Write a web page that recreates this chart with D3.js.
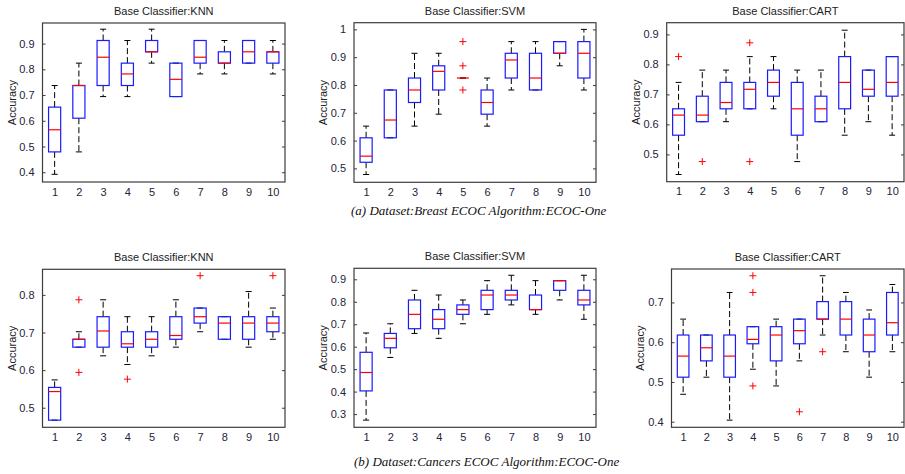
<!DOCTYPE html>
<html>
<head>
<meta charset="utf-8">
<script src="https://cdn.jsdelivr.net/npm/d3@7"></script>
<style>
  body { margin: 0; background: #fff; }
  svg { display: block; }
  .tick-label { font-family: "Liberation Sans", Arial, sans-serif; font-size: 11px; fill: #24243a; }
  .title { font-family: "Liberation Sans", Arial, sans-serif; font-size: 11px; fill: #222; }
  .caption { font-family: "Liberation Serif", "Times New Roman", serif; font-style: italic; font-size: 13px; fill: #111; }
</style>
</head>
<body>
<div id="chart"></div>
<script>
// groups on the x axis
var groups = [1, 2, 3, 4, 5, 6, 7, 8, 9, 10];

// each box: [lower whisker, q1, median, q3, upper whisker]
var breastKnn = [[0.392,0.479,0.565,0.653,0.737],[0.479,0.610,0.737,0.737,0.824],[0.694,0.737,0.847,0.912,0.956],[0.694,0.737,0.782,0.824,0.912],[0.824,0.868,0.868,0.912,0.956],
                 [0.694,0.694,0.761,0.824,0.824],[0.782,0.824,0.847,0.912,0.912],[0.782,0.824,0.824,0.868,0.912],[0.824,0.824,0.868,0.912,0.912],[0.782,0.824,0.868,0.868,0.912]];
var breastKnnOut = [[],[],[],[],[],[],[],[],[],[]];

var breastSvm = [[0.478,0.522,0.544,0.610,0.652],[0.610,0.610,0.674,0.782,0.782],[0.652,0.737,0.782,0.825,0.914],[0.695,0.782,0.849,0.869,0.914],[0.825,0.825,0.825,0.825,0.825],
                 [0.652,0.695,0.737,0.782,0.825],[0.782,0.825,0.890,0.914,0.956],[0.782,0.782,0.825,0.914,0.956],[0.869,0.914,0.914,0.956,0.956],[0.782,0.825,0.914,0.956,1.0]];
var breastSvmOut = [[],[],[],[],[0.956,0.869,0.782],[],[],[],[],[]];

var breastCart = [[0.433,0.564,0.631,0.652,0.740],[0.609,0.609,0.631,0.694,0.781],[0.609,0.652,0.673,0.740,0.781],[0.652,0.652,0.717,0.740,0.826],[0.652,0.694,0.740,0.781,0.826],
                  [0.476,0.564,0.652,0.740,0.781],[0.609,0.609,0.652,0.694,0.781],[0.564,0.652,0.740,0.826,0.914],[0.609,0.694,0.717,0.781,0.781],[0.564,0.694,0.740,0.826,0.826]];
var breastCartOut = [[0.826],[0.476],[],[0.872,0.476],[],[],[],[],[],[]];

var cancersKnn = [[0.467,0.467,0.543,0.554,0.574],[0.661,0.661,0.682,0.682,0.702],[0.638,0.661,0.704,0.742,0.787],[0.615,0.661,0.670,0.702,0.742],[0.638,0.661,0.682,0.702,0.742],
                  [0.661,0.682,0.692,0.742,0.787],[0.702,0.725,0.742,0.765,0.765],[0.682,0.682,0.725,0.742,0.742],[0.661,0.682,0.725,0.742,0.809],[0.682,0.702,0.725,0.742,0.765]];
var cancersKnnOut = [[],[0.787,0.594],[],[0.576],[],[],[0.851],[],[],[0.851]];

var cancersSvm = [[0.273,0.403,0.485,0.575,0.661],[0.552,0.595,0.637,0.659,0.702],[0.659,0.680,0.744,0.808,0.851],[0.637,0.680,0.722,0.765,0.830],[0.702,0.744,0.765,0.786,0.808],
                  [0.744,0.765,0.830,0.851,0.894],[0.786,0.808,0.830,0.851,0.918],[0.744,0.765,0.765,0.830,0.894],[0.808,0.851,0.894,0.894,0.894],[0.722,0.786,0.808,0.851,0.918]];
var cancersSvmOut = [[],[],[],[],[],[],[],[],[],[]];

var cancersCart = [[0.469,0.512,0.565,0.618,0.658],[0.512,0.553,0.586,0.618,0.618],[0.404,0.512,0.565,0.618,0.725],[0.532,0.596,0.607,0.639,0.639],[0.490,0.553,0.618,0.639,0.658],
                   [0.553,0.596,0.629,0.658,0.658],[0.618,0.658,0.658,0.702,0.767],[0.576,0.618,0.658,0.702,0.725],[0.512,0.576,0.618,0.658,0.681],[0.576,0.618,0.649,0.725,0.745]];
var cancersCartOut = [[],[],[],[0.767,0.725,0.490],[],[0.425],[0.576],[],[],[]];

var titles = ["Base Classifier:KNN", "Base Classifier:SVM", "Base Classifier:CART"];
var captions = ["(a) Dataset:Breast ECOC Algorithm:ECOC-One", "(b) Dataset:Cancers ECOC Algorithm:ECOC-One"];
var yTicks = [[0.4,0.5,0.6,0.7,0.8,0.9],[0.5,0.6,0.7,0.8,0.9,1],[0.5,0.6,0.7,0.8,0.9],
              [0.5,0.6,0.7,0.8],[0.3,0.4,0.5,0.6,0.7,0.8,0.9],[0.4,0.5,0.6,0.7]];

// layout of the six axes (pixels) and their y limits
var panels = [
  {boxes: breastKnn,  out: breastKnnOut,  title: titles[0], ticks: yTicks[0], l: 42.5, r: 285, t: 23,    b: 182,   yd: [0.362, 0.980], lab: 12},
  {boxes: breastSvm,  out: breastSvmOut,  title: titles[1], ticks: yTicks[1], l: 354,  r: 596, t: 22.7,  b: 182.3, yd: [0.450, 1.024], lab: 323},
  {boxes: breastCart, out: breastCartOut, title: titles[2], ticks: yTicks[2], l: 666.7,r: 904, t: 22.7,  b: 181.7, yd: [0.409, 0.939], lab: 636},
  {boxes: cancersKnn, out: cancersKnnOut, title: titles[0], ticks: yTicks[3], l: 42.5, r: 285, t: 269.3, b: 427.3, yd: [0.448, 0.868], lab: 12},
  {boxes: cancersSvm, out: cancersSvmOut, title: titles[1], ticks: yTicks[4], l: 354,  r: 596, t: 268.3, b: 427.3, yd: [0.241, 0.949], lab: 323},
  {boxes: cancersCart,out: cancersCartOut,title: titles[2], ticks: yTicks[5], l: 671.5,r: 904, t: 269,   b: 427.3, yd: [0.386, 0.784], lab: 640}
];

var svg = d3.select("#chart").append("svg")
    .attr("width", 905)
    .attr("height", 474);

panels.forEach(function(p) {
  var x = d3.scaleLinear().domain([0.5, 10.5]).range([p.l, p.r]);
  var y = d3.scaleLinear().domain(p.yd).range([p.b, p.t]);
  var g = svg.append("g");
  var bw = x(1.25) - x(1);   // half box width
  var cw = bw * 0.5;         // half cap width

  // frame
  g.append("rect")
    .attr("x", p.l).attr("y", p.t)
    .attr("width", p.r - p.l).attr("height", p.b - p.t)
    .attr("fill", "none").attr("stroke", "#3c3c3c").attr("stroke-width", 1.2);

  // y ticks inside, left and right
  var yAxL = d3.axisLeft(y).tickValues(p.ticks).tickSize(-3).tickPadding(8)
      .tickFormat(function(d) { return String(+d.toFixed(1)); });
  var gl = g.append("g").attr("transform", "translate(" + p.l + ",0)").call(yAxL);
  gl.select(".domain").remove();
  gl.selectAll("line").attr("stroke", "#3c3c3c");
  gl.selectAll("text").attr("class", "tick-label").attr("fill", null);

  var gr = g.append("g").attr("transform", "translate(" + p.r + ",0)")
      .call(d3.axisRight(y).tickValues(p.ticks).tickSize(-3).tickFormat(""));
  gr.select(".domain").remove();
  gr.selectAll("line").attr("stroke", "#3c3c3c");

  // x labels
  var xAx = d3.axisBottom(x).tickValues(groups).tickSize(0).tickPadding(6);
  var gx = g.append("g").attr("transform", "translate(0," + p.b + ")").call(xAx);
  gx.select(".domain").remove();
  gx.selectAll("text").attr("class", "tick-label").attr("fill", null);

  // title and y label
  g.append("text").attr("class", "title")
    .attr("x", (p.l + p.r) / 2).attr("y", p.t - 8)
    .attr("text-anchor", "middle").text(p.title);
  g.append("text").attr("class", "title")
    .attr("transform", "translate(" + (p.lab + 4) + "," + ((p.t + p.b) / 2) + ") rotate(-90)")
    .attr("text-anchor", "middle").text("Accuracy");

  var box = g.selectAll(".box").data(p.boxes).enter().append("g").attr("class", "box");
  function cx(d, i) { return x(groups[i]); }

  // whiskers (dashed)
  box.append("line")
    .attr("x1", cx).attr("x2", cx)
    .attr("y1", function(d) { return y(d[3]); }).attr("y2", function(d) { return y(d[4]); })
    .attr("stroke", "#000").attr("stroke-dasharray", "6,3");
  box.append("line")
    .attr("x1", cx).attr("x2", cx)
    .attr("y1", function(d) { return y(d[1]); }).attr("y2", function(d) { return y(d[0]); })
    .attr("stroke", "#000").attr("stroke-dasharray", "6,3");
  // caps
  [0, 4].forEach(function(k) {
    box.append("line")
      .attr("x1", function(d, i) { return cx(d, i) - cw; })
      .attr("x2", function(d, i) { return cx(d, i) + cw; })
      .attr("y1", function(d) { return y(d[k]); }).attr("y2", function(d) { return y(d[k]); })
      .attr("stroke", "#000");
  });
  // box
  box.append("rect")
    .attr("x", function(d, i) { return cx(d, i) - bw; })
    .attr("width", 2 * bw)
    .attr("y", function(d) { return y(d[3]); })
    .attr("height", function(d) { return y(d[1]) - y(d[3]); })
    .attr("fill", "none").attr("stroke", "#1a1aff").attr("stroke-width", 1.2);
  // median
  box.append("line")
    .attr("x1", function(d, i) { return cx(d, i) - bw; })
    .attr("x2", function(d, i) { return cx(d, i) + bw; })
    .attr("y1", function(d) { return y(d[2]); }).attr("y2", function(d) { return y(d[2]); })
    .attr("stroke", "#ff0000").attr("stroke-width", 1.2);

  // outliers as red +
  var pts = [];
  p.out.forEach(function(o, i) { o.forEach(function(v) { pts.push({g: groups[i], v: v}); }); });
  g.selectAll(".out").data(pts).enter().append("path")
    .attr("class", "out")
    .attr("d", function(d) {
      var px = x(d.g), py = y(d.v), s = 3.5;
      return "M" + (px - s) + "," + py + "H" + (px + s) + "M" + px + "," + (py - s) + "V" + (py + s);
    })
    .attr("stroke", "#ff0000").attr("fill", "none");
});

svg.append("text").attr("class", "caption").attr("x", 351).attr("y", 215).text(captions[0]);
svg.append("text").attr("class", "caption").attr("x", 354).attr("y", 466).text(captions[1]);
</script>
</body>
</html>
